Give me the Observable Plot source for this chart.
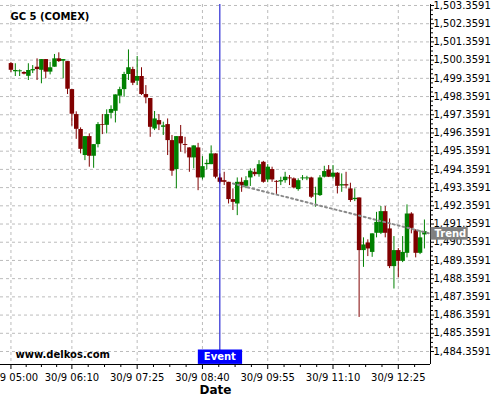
<!DOCTYPE html>
<html><head><meta charset="utf-8">
<script src="https://cdn.jsdelivr.net/npm/d3@7"></script>
<script src="https://cdn.jsdelivr.net/npm/@observablehq/plot@0.6"></script>
<style>
html,body{margin:0;padding:0;background:#fff;}
#chart svg{display:block;overflow:visible;}
</style></head><body><div id="chart"></div>
<script>
const title = "GC 5 (COMEX)";
const footer = "www.delkos.com";
const xLabel = "Date";
const dayLabel = "30/9";

const times = ["05:00","05:05","05:10","05:15","05:20","05:25","05:30","05:35","05:40","05:45","05:50","05:55",
"06:00","06:05","06:10","06:15","06:20","06:25","06:30","06:35","06:40","06:45","06:50","06:55",
"07:00","07:05","07:10","07:15","07:20","07:25","07:30","07:35","07:40","07:45","07:50","07:55",
"08:00","08:05","08:10","08:15","08:20","08:25","08:30","08:35","08:40","08:45","08:50","08:55",
"09:00","09:05","09:10","09:15","09:20","09:25","09:30","09:35","09:40","09:45","09:50","09:55",
"10:00","10:05","10:10","10:15","10:20","10:25","10:30","10:35","10:40","10:45","10:50","10:55",
"11:00","11:05","11:10","11:15","11:20","11:25","11:30","11:35","11:40","11:45","11:50","11:55",
"12:00","12:05","12:10","12:15","12:20","12:25","12:30","12:35","12:40","12:45","12:50","12:55"];

const open = [1500.17,1499.72,1499.72,1499.68,1499.47,1499.77,1499.97,1499.80,1500.39,1499.70,1499.97,1500.43,
1500.30,1500.28,1498.74,1497.37,1496.55,1495.12,1496.16,1495.08,1495.72,1496.82,1496.78,1497.44,
1497.55,1498.38,1498.74,1499.57,1499.84,1499.20,1499.46,1498.47,1498.25,1496.58,1497.04,1496.67,
1496.82,1495.94,1494.35,1496.16,1495.72,1495.54,1494.99,1495.54,1493.89,1494.62,1494.62,1495.21,
1493.89,1493.74,1493.65,1492.70,1492.46,1493.65,1493.43,1493.89,1494.20,1494.07,1494.75,1493.78,
1494.35,1493.70,1493.67,1493.74,1493.89,1493.84,1493.25,1493.84,1493.84,1493.89,1492.96,1492.92,
1493.93,1494.33,1493.93,1494.15,1493.45,1493.52,1493.29,1492.70,1492.79,1489.90,1490.32,1489.80,
1490.85,1490.85,1492.04,1491.09,1489.02,1489.90,1489.31,1489.75,1491.91,1490.99,1489.75,1490.76];

const high = [1500.23,1500.16,1499.82,1499.72,1500.16,1500.06,1500.43,1500.39,1500.39,1500.24,1500.67,1500.76,
1500.39,1500.28,1498.74,1497.52,1496.64,1496.16,1496.31,1495.72,1496.93,1497.37,1497.63,1497.85,
1498.45,1498.87,1499.69,1500.92,1499.97,1500.56,1499.94,1498.96,1498.25,1497.54,1497.37,1496.95,
1497.13,1496.22,1496.16,1496.77,1496.12,1495.54,1495.65,1495.79,1495.06,1494.88,1495.65,1495.21,
1494.11,1494.20,1493.65,1493.29,1493.89,1493.89,1493.96,1494.39,1494.39,1494.84,1494.80,1494.62,
1494.48,1493.74,1493.93,1494.20,1494.02,1493.89,1493.84,1494.02,1493.98,1493.93,1493.38,1494.02,
1494.53,1494.57,1494.57,1494.18,1494.11,1494.20,1493.60,1493.29,1492.79,1490.60,1490.49,1490.82,
1492.00,1492.32,1492.32,1491.64,1490.67,1490.01,1490.67,1492.41,1491.98,1491.05,1490.99,1491.58];

const low = [1499.68,1499.46,1499.46,1499.55,1499.24,1499.62,1499.24,1499.06,1499.33,1499.55,1499.97,1500.23,
1499.33,1498.47,1496.73,1496.01,1495.21,1494.84,1494.48,1494.42,1495.54,1496.27,1496.31,1497.13,
1496.91,1497.96,1498.32,1499.24,1498.96,1498.96,1498.42,1497.96,1496.12,1496.49,1496.49,1496.22,
1495.12,1493.98,1493.29,1495.30,1495.21,1494.20,1494.39,1493.19,1493.78,1494.33,1494.62,1493.84,
1493.56,1493.47,1492.46,1492.10,1491.82,1493.10,1493.30,1493.42,1493.96,1493.93,1493.60,1493.63,
1493.65,1492.97,1493.47,1493.60,1493.47,1493.29,1493.16,1493.74,1493.74,1492.76,1492.28,1492.87,
1493.89,1493.91,1493.84,1493.01,1493.10,1493.29,1492.55,1492.59,1486.23,1488.98,1489.57,1489.53,
1490.60,1490.78,1490.60,1488.91,1487.79,1488.40,1489.24,1489.50,1490.82,1489.50,1489.68,1489.99];

const close = [1499.80,1499.79,1499.77,1499.59,1499.79,1499.84,1499.84,1500.39,1499.70,1499.94,1500.43,1500.28,
1500.39,1498.76,1497.39,1496.56,1495.46,1496.16,1495.08,1495.72,1496.82,1496.78,1497.37,1497.65,
1498.45,1498.74,1499.57,1499.94,1499.09,1499.46,1498.47,1498.29,1496.67,1497.13,1496.80,1496.75,
1495.94,1494.26,1496.16,1495.76,1495.67,1494.99,1495.65,1493.89,1494.51,1494.69,1495.21,1493.93,
1493.65,1493.65,1492.70,1492.55,1493.65,1493.47,1493.74,1494.26,1494.07,1494.62,1493.65,1494.48,
1493.78,1493.65,1493.74,1493.93,1493.84,1493.34,1493.74,1493.89,1493.89,1492.83,1493.01,1493.89,
1494.24,1493.93,1494.15,1493.43,1493.52,1493.45,1492.65,1492.77,1489.90,1490.21,1489.99,1490.82,
1491.45,1492.04,1490.85,1489.02,1489.90,1489.31,1489.80,1491.91,1491.12,1489.75,1490.60,1490.94];

const xDomain = ["04:48","13:02"];
const yDomain = [1483.645, 1503.414];
const xTickLabels = ["05:00","06:10","07:25","08:40","09:55","11:10","12:25"];
const yTickValues = [1484.3591,1485.3591,1486.3591,1487.3591,1488.3591,1489.3591,1490.3591,1491.3591,1492.3591,1493.3591,
1494.3591,1495.3591,1496.3591,1497.3591,1498.3591,1499.3591,1500.3591,1501.3591,1502.3591,1503.3591];

const eventTime = "09:00";
const eventLabel = "Event";
const trendTimes = ["09:15","13:02"];
const trendValues = [1493.58, 1490.83];
const trendLabel = "Trend";

const toMin = s => { const [h, m] = s.split(":").map(Number); return h * 60 + m; };
const pad = n => String(n).padStart(2, "0");
const fmtTime = m => `${dayLabel} ${pad(Math.floor(m / 60))}:${pad(Math.round(m % 60))}`;

const candles = times.map((t, i) => ({t: toMin(t), o: open[i], h: high[i], l: low[i], c: close[i]}));
const candleColor = d => d.c >= d.o ? "#008000" : "#800000";
const trend = trendTimes.map((t, i) => ({t: toMin(t), v: trendValues[i]}));
const xMin = toMin(xDomain[0]), xMax = toMin(xDomain[1]);

const xMajor = xTickLabels.map(toMin);
const xMinor = [];
for (let i = 0; i < xMajor.length - 1; i++) {
  const a = xMajor[i], b = xMajor[i + 1];
  for (let k = 1; k < 4; k++) xMinor.push(a + (b - a) * k / 4);
}
{
  const step = (xMajor[xMajor.length - 1] - xMajor[xMajor.length - 2]) / 4;
  for (let v = xMajor[xMajor.length - 1] + step; v <= xMax; v += step) xMinor.push(v);
}
const yMinor = [];
for (let i = 0; i < yTickValues.length - 1; i++) {
  for (let k = 1; k < 4; k++) yMinor.push(yTickValues[i] + (yTickValues[i + 1] - yTickValues[i]) * k / 4);
}

const gridStyle = {stroke: "#bcbcbc", strokeOpacity: 1, strokeDasharray: "3,3", strokeWidth: 1};

const chart = Plot.plot({
  width: 500, height: 400,
  marginTop: 4, marginBottom: 36, marginLeft: 0, marginRight: 70,
  style: {fontFamily: "'DejaVu Sans', sans-serif", fontSize: "10px", color: "#000", background: "#fff", overflow: "visible"},
  x: {type: "linear", domain: [xMin, xMax]},
  y: {domain: yDomain},
  marks: [
    Plot.gridY(yTickValues, gridStyle),
    Plot.gridX(xMajor, gridStyle),
    Plot.axisY(yMinor, {anchor: "right", tickSize: 2, tickFormat: () => "", label: null}),
    Plot.axisY(yTickValues, {anchor: "right", tickSize: 3, tickPadding: 0, tickFormat: d3.format(",.4f"), label: null, fontSize: 10}),
    Plot.axisX(xMinor, {anchor: "bottom", tickSize: 3, tickFormat: () => "", label: null}),
    Plot.axisX(xMajor, {anchor: "bottom", tickSize: 5, tickPadding: 4, tickFormat: fmtTime, label: null, fontSize: 10}),
    Plot.ruleX(candles, {x: "t", y1: "l", y2: "h", stroke: candleColor, strokeWidth: 1}),
    Plot.ruleX(candles, {x: "t", y1: "o", y2: "c", stroke: candleColor, strokeWidth: 4.5}),
    Plot.line(trend, {x: "t", y: "v", stroke: "#8a8a8a", strokeWidth: 2, strokeDasharray: "2,3"}),
    Plot.ruleX([eventTime], {x: d => toMin(d), stroke: "#0000cc", strokeWidth: 1}),
    Plot.ruleY([yDomain[0]], {stroke: "#000", strokeWidth: 1}),
    Plot.ruleX([xMax], {stroke: "#000", strokeWidth: 1}),
    Plot.text([title], {frameAnchor: "top-left", dx: 10, dy: 12, textAnchor: "start", lineAnchor: "middle", fontWeight: "bold", fontSize: 10, fill: "#000"}),
    Plot.text([footer], {frameAnchor: "bottom-left", dx: 15, dy: -10, textAnchor: "start", lineAnchor: "middle", fontWeight: "bold", fontSize: 10, fill: "#000"}),
    Plot.text([xLabel], {frameAnchor: "bottom", dy: 25.5, lineAnchor: "middle", fontWeight: "bold", fontSize: 12, fill: "#000"}),
    Plot.text([eventTime], {x: d => toMin(d), frameAnchor: "bottom", dy: -7.5, text: () => eventLabel, lineAnchor: "middle", fontWeight: "bold", fontSize: 10, fill: "#fff"}),
    Plot.text([trend[trend.length - 1]], {x: "t", y: "v", text: () => trendLabel, dx: 4, textAnchor: "start", lineAnchor: "middle", fontWeight: "bold", fontSize: 10, fill: "#fff"})
  ]
});
document.getElementById("chart").append(chart);

function addBox(t, fill, left, right, top, bottom) {
  const b = t.getBBox();
  const r = document.createElementNS("http://www.w3.org/2000/svg", "rect");
  r.setAttribute("x", b.x - left);
  r.setAttribute("y", b.y - top);
  r.setAttribute("width", b.width + left + right);
  r.setAttribute("height", b.height + top + bottom);
  r.setAttribute("fill", fill);
  const tr = t.getAttribute("transform");
  if (tr) r.setAttribute("transform", tr);
  t.parentNode.insertBefore(r, t);
}
chart.querySelectorAll("text").forEach(t => {
  if (t.textContent === eventLabel) addBox(t, "#0000ff", 6, 6, 1.7, 1.7);
  else if (t.textContent === trendLabel) addBox(t, "#808080", 4, 1.5, 0.8, 0.8);
});
</script></body></html>
